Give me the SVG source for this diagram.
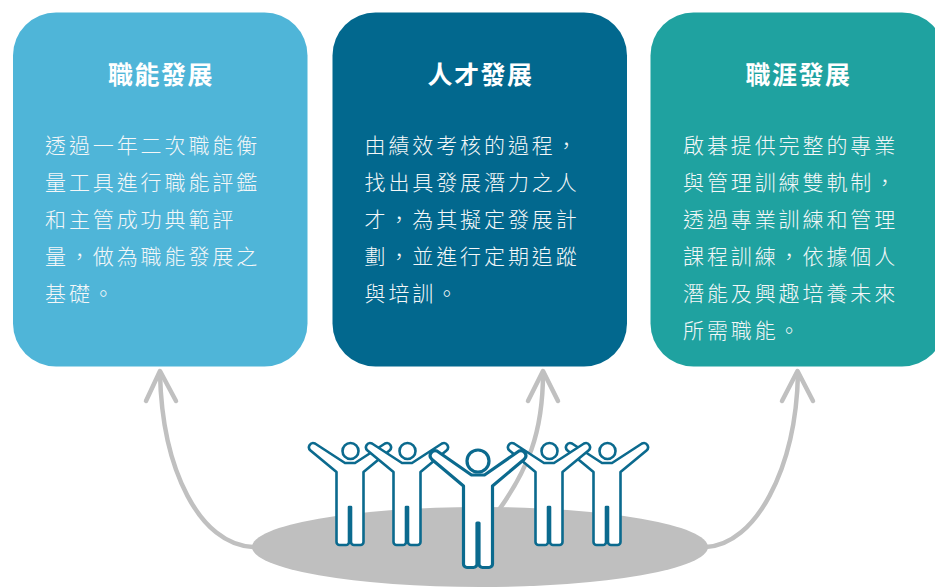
<svg xmlns="http://www.w3.org/2000/svg" xmlns:xlink="http://www.w3.org/1999/xlink" width="935" height="587" viewBox="0 0 935 587" xml:lang="zh-Hant-TW" lang="zh-Hant-TW">
  <style>
    text:lang(zh-Hant-TW) { font-family: "Noto Sans CJK TC", "Noto Sans CJK SC", sans-serif; }
    .title { font-family: "Noto Sans CJK TC", "Noto Sans CJK SC", sans-serif; font-size: 25px; font-weight: bold; fill: #ffffff; letter-spacing: 1.5px; text-anchor: middle; }
    .body { font-family: "Noto Sans CJK TC", "Noto Sans CJK SC", sans-serif; font-size: 21px; font-weight: 300; fill: #f4f7f8; letter-spacing: 2.9px; font-feature-settings: "locl" 1; }
    .conn { fill: none; stroke: #c0c0c0; stroke-width: 4.5; stroke-linecap: round; stroke-linejoin: round; }
    .fig { fill: #ffffff; stroke: #0b6a8e; stroke-linejoin: round; }
    .small { stroke-width: 2.6; }
    .big { stroke-width: 3.2; }
  </style>
  <defs>
    <g id="smallFig">
      <path class="fig small" d="M -5,463 L -35,443.5 A 4.2 4.2 0 0 0 -39.5,450.5 L -13.5,472 L -13.5,542 A 3 3 0 0 0 -10.5,545 L -4,545 A 3 3 0 0 0 -1,542 L -1,507 L 1,507 L 1,542 A 3 3 0 0 0 4,545 L 10.5,545 A 3 3 0 0 0 13.5,542 L 13.5,472 L 39.5,450.5 A 4.2 4.2 0 0 0 35,443.5 L 5,463 Z"/>
      <circle class="fig small" cx="0.5" cy="451" r="8"/>
    </g>
  </defs>

  <g id="node-competency" lang="zh-TW">
    <rect x="13" y="12.5" width="294.5" height="354" rx="43" ry="43" fill="#4fb5d8"/>
    <text class="title" x="161" y="84">職能發展</text>
    <text class="body" x="45" y="153">透過一年二次職能衡</text>
    <text class="body" x="45" y="190">量工具進行職能評鑑</text>
    <text class="body" x="45" y="227">和主管成功典範評</text>
    <text class="body" x="45" y="264">量，做為職能發展之</text>
    <text class="body" x="45" y="301">基礎。</text>
  </g>

  <g id="node-talent" lang="zh-TW">
    <rect x="332.5" y="12.5" width="294.5" height="354" rx="43" ry="43" fill="#02688e"/>
    <text class="title" x="480.5" y="84">人才發展</text>
    <text class="body" x="364.5" y="153">由績效考核的過程，</text>
    <text class="body" x="364.5" y="190">找出具發展潛力之人</text>
    <text class="body" x="364.5" y="227">才，為其擬定發展計</text>
    <text class="body" x="364.5" y="264">劃，並進行定期追蹤</text>
    <text class="body" x="364.5" y="301">與培訓。</text>
  </g>

  <g id="node-career" lang="zh-TW">
    <rect x="650.5" y="12.5" width="294.5" height="354" rx="43" ry="43" fill="#1fa2a0"/>
    <text class="title" x="798.5" y="84">職涯發展</text>
    <text class="body" x="683" y="153">啟碁提供完整的專業</text>
    <text class="body" x="683" y="190">與管理訓練雙軌制，</text>
    <text class="body" x="683" y="227">透過專業訓練和管理</text>
    <text class="body" x="683" y="264">課程訓練，依據個人</text>
    <text class="body" x="683" y="301">潛能及興趣培養未來</text>
    <text class="body" x="683" y="338">所需職能。</text>
  </g>

  <g id="connectors">
    <path class="conn" d="M 253,547 C 200,545 162,470 160,373"/>
    <path class="conn" d="M 146,401 L 160,371 L 176,401"/>
    <path class="conn" d="M 490,522 C 530,470 543,430 543,373"/>
    <path class="conn" d="M 528,401 L 543,371 L 558,401"/>
    <path class="conn" d="M 706,547 C 755,545 796,470 798,373"/>
    <path class="conn" d="M 782,401 L 797.5,371 L 813,401"/>
  </g>

  <g id="node-people">
    <ellipse cx="480" cy="547" rx="228" ry="40" fill="#bfbfbf"/>
    <use xlink:href="#smallFig" transform="translate(350,0)"/>
    <use xlink:href="#smallFig" transform="translate(407,0)"/>
    <use xlink:href="#smallFig" transform="translate(607,0)"/>
    <use xlink:href="#smallFig" transform="translate(549,0)"/>
    <g transform="translate(478,0)">
      <path class="fig big" d="M -6.5,475 L -41,451 A 5 5 0 0 0 -46,459.5 L -14.5,486 L -14.5,564 A 3.5 3.5 0 0 0 -11,567.5 L -4.5,567.5 A 3.5 3.5 0 0 0 -1,564 L -1,523 L 1,523 L 1,564 A 3.5 3.5 0 0 0 4.5,567.5 L 11,567.5 A 3.5 3.5 0 0 0 14.5,564 L 14.5,486 L 46,459.5 A 5 5 0 0 0 41,451 L 6.5,475 Z"/>
      <circle class="fig big" cx="0" cy="461" r="11"/>
    </g>
  </g>
</svg>
